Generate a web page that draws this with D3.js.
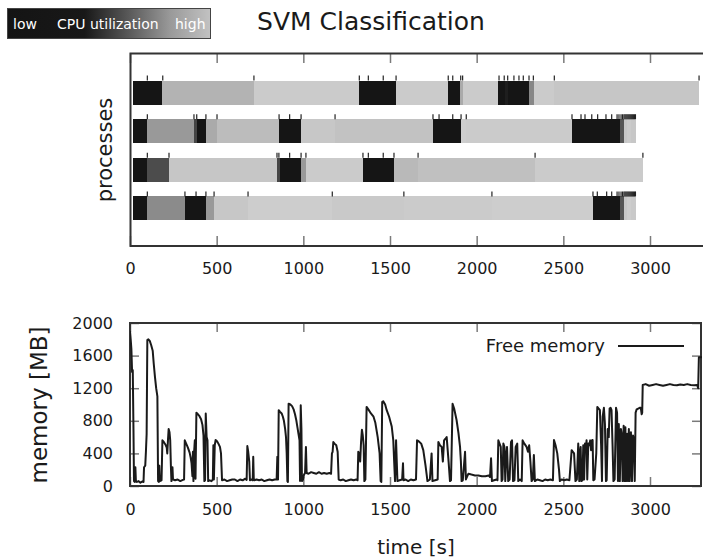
<!DOCTYPE html>
<html>
<head>
<meta charset="utf-8">
<script src="https://cdn.jsdelivr.net/npm/d3@7/dist/d3.min.js"></script>
<style>
  html, body { margin: 0; padding: 0; background: #fff; }
  svg { display: block; font-family: "DejaVu Sans", sans-serif; }
</style>
</head>
<body>
<svg id="chart" width="703" height="559"></svg>
<script>
// ---- data -------------------------------------------------------------
const processNames = ["p1", "p2", "p3", "p4"];

// Phases per process: [start s, end s, CPU utilization %]
const phasesP1 = [[15,186,0],[186,716,86],[716,1323,99],[1323,1535,0],[1535,1837,99],[1837,1904,0],[1904,1921,81],[1921,2125,99],[2125,2163,0],[2163,2179,5],[2179,2302,0],[2302,2331,62],[2331,2448,99],[2448,3283,96]];
const phasesP2 = [[15,98,0],[98,369,72],[369,386,26],[386,438,0],[438,502,81],[502,860,91],[860,987,0],[987,1183,97],[1183,1748,94],[1748,1910,0],[1910,1939,100],[1939,2550,99],[2550,2827,0],[2827,2850,35],[2850,2870,96],[2870,2890,99],[2890,2919,97]];
const phasesP3 = [[15,100,0],[100,225,30],[225,848,96],[848,865,26],[865,987,0],[987,1015,72],[1015,1344,99],[1344,1523,0],[1523,1662,89],[1662,2337,93],[2337,2960,99]];
const phasesP4 = [[15,100,0],[100,317,64],[317,438,0],[438,485,72],[485,681,97],[681,1167,100],[1167,1580,98],[1580,2088,99],[2088,2671,100],[2671,2827,0],[2827,2850,35],[2850,2870,97],[2870,2890,100],[2890,2919,98]];

// Task start markers per process [s]
const marksP1 = [100,189,715,1323,1375,1461,1535,1836,1862,1908,1919,2129,2159,2179,2215,2244,2269,2302,2327,2448,3283];
const marksP2 = [100,369,385,438,502,860,921,987,1183,1748,1783,1862,1910,1940,2550,2602,2625,2664,2698,2746,2779,2810,2821,2833,2842,2850,2856,2862,2868,2874,2880,2886,2892,2898,2904,2910,2916];
const marksP3 = [100,225,848,859,921,987,1015,1344,1375,1461,1523,1662,2337,2959];
const marksP4 = [100,317,381,438,485,681,1167,1580,2088,2671,2696,2750,2779,2810,2821,2833,2842,2850,2856,2862,2868,2874,2880,2886,2892,2898,2904,2910,2916];

const timeTicks = [0, 500, 1000, 1500, 2000, 2500, 3000];
const memTicks = [0, 400, 800, 1200, 1600, 2000];

// Free memory samples [s, MB]
const memSamples = [
  [0,1900],[4,1800],[8,1680],[12,1400],[16,1420],[20,700],[23,60],[27,50],[31,230],[34,60],[40,50],[50,60],[60,40],[70,55],[78,50],
  [81,230],[88,250],[92,430],[96,640],[100,1790],[106,1800],[114,1780],[122,1730],[131,1660],[137,1500],[144,1340],[151,1200],[158,1100],
  [162,60],[166,50],[169,250],[172,60],[182,70],[187,560],[195,540],[204,510],[212,470],[215,400],[219,560],[223,700],[228,660],[232,560],
  [236,240],[239,60],[245,230],[248,80],[260,70],[275,80],[290,60],[305,75],[312,80],[316,560],[324,520],[334,470],[344,410],[350,350],
  [355,280],[360,120],[363,420],[366,60],[370,420],[374,560],[378,90],[383,900],[392,880],[400,860],[410,820],[418,750],[424,620],[429,60],
  [433,70],[437,890],[442,600],[447,560],[451,60],[460,70],[470,60],[478,80],[481,500],[484,80],[489,500],[494,565],[502,550],[510,520],
  [519,480],[525,400],[531,70],[545,80],[560,60],[575,70],[590,80],[605,80],[620,60],[635,80],[650,70],[665,90],[673,75],[677,490],
  [682,420],[688,300],[692,70],[700,80],[708,70],[711,360],[714,90],[717,70],[730,80],[745,70],[760,80],[775,60],[790,70],[805,80],
  [820,70],[835,80],[846,80],[850,360],[854,80],[858,930],[866,910],[875,890],[882,850],[888,800],[895,700],[900,600],[904,400],[908,60],
  [911,50],[915,1010],[925,1000],[935,980],[944,940],[952,880],[960,800],[966,720],[972,640],[978,560],[981,60],[985,990],[989,700],[992,60],
  [998,80],[1004,140],[1010,160],[1015,480],[1019,160],[1030,150],[1045,170],[1060,160],[1075,150],[1090,170],[1105,150],[1120,160],
  [1135,150],[1150,160],[1160,150],[1165,400],[1169,420],[1173,540],[1180,520],[1190,500],[1198,420],[1204,80],[1215,70],[1230,80],
  [1245,60],[1260,70],[1275,80],[1290,70],[1305,80],[1313,70],[1317,420],[1322,400],[1328,300],[1333,540],[1338,690],[1343,620],[1348,500],
  [1352,60],[1358,80],[1365,970],[1375,940],[1390,890],[1405,850],[1415,780],[1429,600],[1440,400],[1446,60],[1450,50],[1455,1030],
  [1461,1040],[1472,1000],[1481,930],[1495,850],[1510,730],[1519,560],[1524,300],[1529,60],[1535,560],[1539,300],[1543,60],[1555,70],
  [1570,80],[1575,280],[1578,70],[1590,80],[1605,60],[1620,80],[1635,70],[1650,80],[1656,560],[1665,550],[1680,520],[1692,440],[1705,250],
  [1711,150],[1716,60],[1730,80],[1740,400],[1745,60],[1760,70],[1775,80],[1779,540],[1788,500],[1798,480],[1805,300],[1812,560],[1820,580],
  [1827,600],[1838,300],[1846,60],[1852,70],[1861,1010],[1870,950],[1884,810],[1895,650],[1904,480],[1909,300],[1913,60],[1920,70],
  [1933,420],[1938,80],[1946,120],[1952,150],[1970,140],[1990,130],[2010,130],[2030,120],[2050,120],[2070,130],[2077,110],[2083,340],
  [2088,60],[2100,70],[2115,80],[2120,70],[2125,560],[2132,520],[2139,480],[2144,60],[2149,80],[2154,520],[2160,480],[2165,60],[2170,380],
  [2175,480],[2182,60],[2190,80],[2198,540],[2204,560],[2210,60],[2218,70],[2225,480],[2234,520],[2240,60],[2250,80],[2260,60],[2265,560],
  [2275,520],[2288,480],[2296,420],[2303,500],[2310,300],[2317,60],[2324,80],[2330,380],[2336,60],[2350,80],[2365,70],[2380,60],[2395,80],
  [2410,70],[2425,80],[2440,70],[2446,565],[2455,500],[2465,400],[2475,200],[2480,60],[2490,80],[2505,70],[2520,80],[2535,70],[2548,440],
  [2555,420],[2562,400],[2570,60],[2578,80],[2586,520],[2592,60],[2596,400],[2600,480],[2604,60],[2610,70],[2615,500],[2620,80],[2625,520],
  [2630,440],[2634,560],[2638,80],[2644,520],[2650,500],[2655,560],[2660,440],[2665,560],[2669,565],[2673,70],[2680,80],[2690,400],
  [2696,970],[2704,950],[2711,930],[2718,500],[2723,60],[2727,850],[2734,960],[2740,760],[2746,60],[2750,70],[2756,700],[2762,600],
  [2767,950],[2773,960],[2778,930],[2784,500],[2789,60],[2796,80],[2804,960],[2810,900],[2815,60],[2820,760],[2826,60],[2832,700],
  [2838,620],[2842,60],[2848,740],[2853,60],[2858,720],[2862,60],[2868,640],[2873,60],[2878,700],[2883,60],[2890,660],[2896,60],[2902,620],
  [2908,560],[2912,60],[2917,900],[2923,940],[2932,950],[2942,960],[2947,960],[2952,880],[2955,900],[2958,1240],[2975,1250],[2995,1230],
  [3015,1240],[3035,1250],[3055,1240],[3075,1230],[3095,1240],[3115,1250],[3135,1240],[3155,1235],[3175,1245],[3195,1240],[3215,1250],
  [3235,1240],[3255,1235],[3272,1240],[3278,1200],[3282,1580],[3300,1580]
];

// ---- drawing ----------------------------------------------------------
const svg = d3.select("#chart");
const ink = "#1a1a1a";
const frameColor = "#333";
const tickColor = "#7a7a7a";

const x = d3.scaleLinear().domain([0, 3300]).range([130, 702]);
const shade = d3.scaleLinear().domain([0, 100]).range(["#151515", "#cdcdcd"]);

// CPU utilization legend bar
const defs = svg.append("defs");
const grad = defs.append("linearGradient").attr("id", "cpuGrad");
[[0, "#141414"], [0.38, "#181818"], [0.6, "#5a5a5a"], [0.8, "#999"], [1, "#c2c2c2"]]
  .forEach(([o, c]) => grad.append("stop").attr("offset", o).attr("stop-color", c));
svg.append("rect").attr("x", 7.5).attr("y", 8.5).attr("width", 203).attr("height", 30)
  .attr("fill", "url(#cpuGrad)").attr("stroke", "#444").attr("stroke-width", 1);
const legendText = svg.append("g").attr("fill", "#fff").attr("font-size", 14);
legendText.append("text").attr("x", 13).attr("y", 28.5).text("low");
legendText.append("text").attr("x", 57).attr("y", 28.5).text("CPU utilization");
legendText.append("text").attr("x", 175).attr("y", 28.5).text("high");

svg.append("text").attr("x", 371).attr("y", 30).attr("text-anchor", "middle")
  .attr("font-size", 25).attr("fill", ink).text("SVM Classification");

// ---- process timeline panel ----
const yRow = d3.scaleLinear().domain([0, 5]).range([53, 246]);
const barH = 24;
const rows = [
  { name: processNames[0], phases: phasesP1, marks: marksP1 },
  { name: processNames[1], phases: phasesP2, marks: marksP2 },
  { name: processNames[2], phases: phasesP3, marks: marksP3 },
  { name: processNames[3], phases: phasesP4, marks: marksP4 }
];
const timeline = svg.append("g");
rows.forEach((r, i) => {
  const cy = yRow(i + 1) + 1;
  timeline.append("g").selectAll("rect").data(r.phases).join("rect")
    .attr("x", d => x(d[0])).attr("width", d => x(d[1]) - x(d[0]))
    .attr("y", cy - barH / 2).attr("height", barH)
    .attr("fill", d => shade(d[2])).attr("shape-rendering", "crispEdges");
  timeline.append("g").selectAll("line").data(r.marks).join("line")
    .attr("x1", d => x(d)).attr("x2", d => x(d))
    .attr("y1", cy - barH / 2 - 5).attr("y2", cy - barH / 2)
    .attr("stroke", "#222").attr("stroke-width", 1.2);
});

// frame and ticks of the timeline panel
const topAxisB = d3.axisBottom(x).tickValues(timeTicks).tickSize(-10).tickPadding(17).tickFormat(d3.format("d"));
const topAxisT = d3.axisTop(x).tickValues(timeTicks).tickSize(-10).tickFormat("");
const gB = svg.append("g").attr("transform", "translate(0,246)").call(topAxisB);
const gT = svg.append("g").attr("transform", "translate(0,53)").call(topAxisT);
[gB, gT].forEach(g => {
  g.select(".domain").remove();
  g.selectAll(".tick line").attr("stroke", tickColor).attr("stroke-width", 1.5);
  g.selectAll("text").attr("font-size", 16).attr("fill", ink).attr("font-family", "DejaVu Sans");
});
svg.append("path").attr("d", "M705,53.5H130.5V246H705")
  .attr("fill", "none").attr("stroke", frameColor).attr("stroke-width", 2);
svg.append("text").attr("transform", "translate(112,150) rotate(-90)")
  .attr("text-anchor", "middle").attr("font-size", 21).attr("fill", ink).text("processes");

// ---- free memory panel ----
const yMem = d3.scaleLinear().domain([0, 2000]).range([486, 323]);

defs.append("clipPath").attr("id", "memClip").append("rect")
  .attr("x", 130).attr("y", 320).attr("width", 572).attr("height", 168);

const mB = d3.axisBottom(x).tickValues(timeTicks).tickSize(-9).tickPadding(18).tickFormat(d3.format("d"));
const mT = d3.axisTop(x).tickValues(timeTicks).tickSize(-9).tickFormat("");
const mL = d3.axisLeft(yMem).tickValues(memTicks).tickSize(-9).tickPadding(17).tickFormat(d3.format("d"));
const mR = d3.axisRight(yMem).tickValues(memTicks).tickSize(-9).tickFormat("");
const axes = [
  svg.append("g").attr("transform", "translate(0,486)").call(mB),
  svg.append("g").attr("transform", "translate(0,323)").call(mT),
  svg.append("g").attr("transform", "translate(130,0)").call(mL),
  svg.append("g").attr("transform", "translate(701,0)").call(mR)
];
axes.forEach(g => {
  g.select(".domain").remove();
  g.selectAll(".tick line").attr("stroke", tickColor).attr("stroke-width", 1.5);
  g.selectAll("text").attr("font-size", 16).attr("fill", ink).attr("font-family", "DejaVu Sans");
});
svg.append("rect").attr("x", 130).attr("y", 323).attr("width", 571).attr("height", 163)
  .attr("fill", "none").attr("stroke", frameColor).attr("stroke-width", 2);

svg.append("path").datum(memSamples)
  .attr("clip-path", "url(#memClip)")
  .attr("d", d3.line().x(d => x(d[0])).y(d => yMem(d[1])))
  .attr("fill", "none").attr("stroke", ink).attr("stroke-width", 2).attr("stroke-linejoin", "round");

// legend
svg.append("text").attr("x", 605).attr("y", 352).attr("text-anchor", "end")
  .attr("font-size", 18).attr("fill", ink).text("Free memory");
svg.append("line").attr("x1", 618).attr("x2", 684).attr("y1", 346).attr("y2", 346)
  .attr("stroke", ink).attr("stroke-width", 2);

svg.append("text").attr("transform", "translate(47,405) rotate(-90)")
  .attr("text-anchor", "middle").attr("font-size", 23).attr("fill", ink).text("memory [MB]");
svg.append("text").attr("x", 416).attr("y", 554).attr("text-anchor", "middle")
  .attr("font-size", 20).attr("fill", ink).text("time [s]");
</script>
</body>
</html>
